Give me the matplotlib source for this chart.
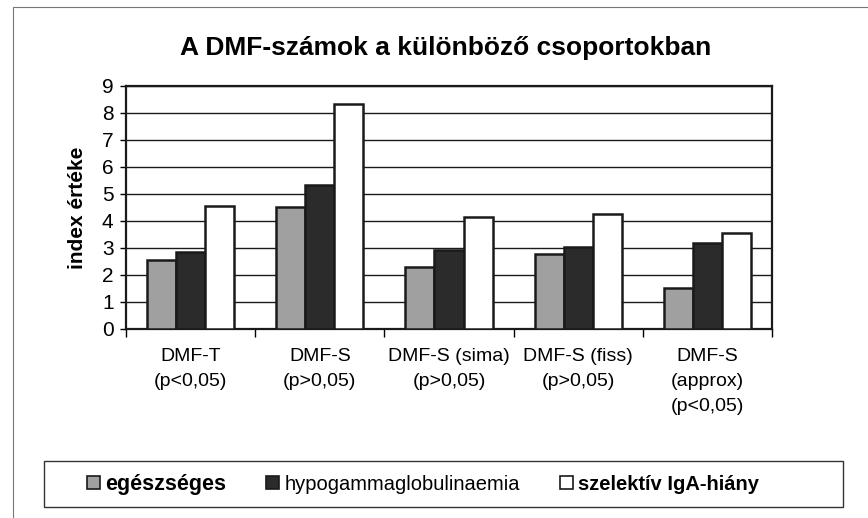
import matplotlib
matplotlib.use('Agg')
import matplotlib.pyplot as plt
from matplotlib.patches import Rectangle, Patch
from matplotlib.lines import Line2D
import numpy as np

plt.rcParams['font.family'] = ['Liberation Sans', 'DejaVu Sans']

categories = ["DMF-T\n(p<0,05)", "DMF-S\n(p>0,05)", "DMF-S (sima)\n(p>0,05)",
              "DMF-S (fiss)\n(p>0,05)", "DMF-S\n(approx)\n(p<0,05)"]
egeszseges = [2.55, 4.53, 2.31, 2.77, 1.50]
hypogamma = [2.86, 5.35, 2.92, 3.02, 3.19]
iga_hiany = [4.56, 8.35, 4.13, 4.25, 3.54]
series_names = ["egészséges", "hypogammaglobulinaemia", "szelektív IgA-hiány"]

fig = plt.figure(figsize=(8.68, 5.18), dpi=100)
ax = fig.add_axes([0.1452, 0.3649, 0.7442, 0.4691])

x = np.arange(len(categories))
w = 0.225
colors = ["#a0a0a0", "#2b2b2b", "#ffffff"]
for i, vals in enumerate([egeszseges, hypogamma, iga_hiany]):
    ax.bar(x + (i - 1) * w, vals, width=w, color=colors[i], edgecolor="#1a1a1a",
           linewidth=1.8, zorder=3)

ax.set_xlim(-0.5, len(categories) - 0.5)
ax.set_ylim(0, 9)
ax.set_yticks(range(0, 10))
ax.tick_params(axis='y', labelsize=15, length=4, width=1, direction='out', pad=5)
ax.yaxis.grid(True, color="#1a1a1a", linewidth=1.0, zorder=0)

# category ticks at group boundaries, labels centered under groups
ax.set_xticks(np.arange(len(categories) + 1) - 0.5)
ax.set_xticklabels([])
ax.tick_params(axis='x', length=6, width=1, direction='out')
ax.set_xticks(x, minor=True)
ax.set_xticklabels(categories, minor=True, fontsize=14, linespacing=1.6)
ax.tick_params(axis='x', which='minor', length=0, pad=14)

for s in ax.spines.values():
    s.set_linewidth(1.6)
    s.set_color("#1a1a1a")

ax.set_ylabel("index értéke", fontsize=15, fontweight="bold", labelpad=11)
fig.text(0.513, 0.907, "A DMF-számok a különböző csoportokban", ha="center",
         va="center", fontsize=19, fontweight="bold")

# legend box
fig.patches.append(Rectangle((0.0507, 0.021), 0.92, 0.089, transform=fig.transFigure,
                             fill=False, edgecolor="#333333", linewidth=1.0))
handles = [Patch(facecolor=colors[i], edgecolor="#1a1a1a", linewidth=1.2)
           for i in range(3)]
leg = fig.legend(handles, series_names, loc="center", bbox_to_anchor=(0.4874, 0.0655),
                 ncol=3, frameon=False, fontsize=14.5, handlelength=0.65,
                 handleheight=0.65, handletextpad=0.25, columnspacing=2.0)
leg.get_texts()[0].set_fontweight("bold")
leg.get_texts()[0].set_fontsize(15.5)
leg.get_texts()[2].set_fontweight("bold")

# outer chart frame
fig.lines.append(Line2D([0.015, 0.015, 1.0], [0.0, 0.986, 0.986], transform=fig.transFigure,
                        color="#777777", linewidth=0.8))

fig.savefig("out.png", dpi=100, facecolor="white")
